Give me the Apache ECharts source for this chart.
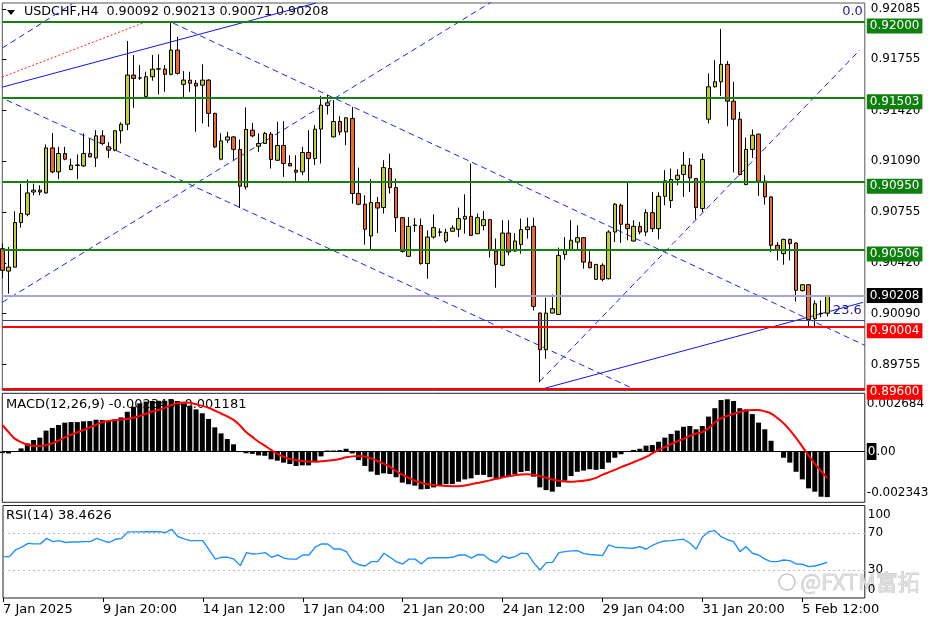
<!DOCTYPE html>
<html><head><meta charset="utf-8">
<script src="https://cdn.jsdelivr.net/npm/echarts@6/dist/echarts.min.js"></script>
<style>html,body{margin:0;padding:0;background:#fff}#c{width:936px;height:624px}</style>
</head><body><div id="c"></div><script>
// ---- price data (USDCHF H4) ----
const opens = [0.90515,0.90368,0.90394,0.90686,0.90740,0.90886,0.90898,0.90880,0.91175,0.91018,
0.91138,0.91033,0.91060,0.91057,0.91138,0.91109,0.91254,0.91182,0.91160,0.91287,
0.91330,0.91652,0.91632,0.91512,0.91641,0.91691,0.91691,0.91657,0.91816,0.91591,
0.91619,0.91598,0.91586,0.91619,0.91401,0.91101,0.91226,0.91247,0.91165,0.90919,
0.91291,0.91186,0.91204,0.91265,0.91094,0.91191,0.91073,0.91029,0.91018,0.91145,
0.91105,0.91298,0.91453,0.91247,0.91348,0.91280,0.91368,0.90876,0.90806,0.90598,
0.90817,0.90784,0.91040,0.90915,0.90718,0.90465,0.90666,0.90666,0.90417,0.90591,
0.90622,0.90565,0.90629,0.90642,0.90709,0.90727,0.90613,0.90666,0.90705,0.90499,
0.90406,0.90617,0.90499,0.90543,0.90640,0.90661,0.90093,0.89853,0.90093,0.90084,
0.90476,0.90504,0.90558,0.90587,0.90427,0.90314,0.90406,0.90318,0.90624,0.90799,
0.90675,0.90565,0.90661,0.90624,0.90751,0.90646,0.90858,0.90830,0.90968,0.91001,
0.91062,0.90974,0.90778,0.91363,0.91575,0.91608,0.91722,0.91481,0.91363,0.90935,
0.91165,0.91265,0.90957,0.90854,0.90537,0.90482,0.90576,0.90552,0.90240,0.90279,
0.90056,0.90089,0.90092];
const highs = [0.90550,0.90526,0.90760,0.90941,0.90968,0.90941,0.90930,0.91197,0.91273,0.91182,
0.91182,0.91105,0.91132,0.91270,0.91237,0.91291,0.91291,0.91214,0.91291,0.91342,
0.91875,0.91783,0.91718,0.91674,0.91783,0.91788,0.91718,0.91998,0.91903,0.91678,
0.91674,0.91619,0.91722,0.91625,0.91405,0.91270,0.91280,0.91252,0.91230,0.91440,
0.91339,0.91270,0.91280,0.91280,0.91346,0.91350,0.91127,0.91127,0.91182,0.91291,
0.91324,0.91516,0.91521,0.91488,0.91383,0.91376,0.91444,0.91046,0.90865,0.90970,
0.90854,0.91094,0.91138,0.90974,0.90722,0.90722,0.90716,0.90712,0.90635,0.90740,
0.90648,0.90646,0.90668,0.90784,0.90871,0.91073,0.90745,0.90762,0.90708,0.90581,
0.90701,0.90701,0.90617,0.90712,0.90718,0.90718,0.90097,0.90194,0.90215,0.90522,
0.90591,0.90701,0.90668,0.90590,0.90499,0.90414,0.90419,0.90635,0.90814,0.90810,
0.90952,0.90701,0.90690,0.90773,0.90886,0.90884,0.91029,0.91040,0.91035,0.91149,
0.91109,0.90976,0.91138,0.91663,0.91750,0.91954,0.91744,0.91608,0.91411,0.91243,
0.91296,0.91268,0.90996,0.90858,0.90558,0.90580,0.90580,0.90556,0.90281,0.90281,
0.90176,0.90176,0.90213];
const lows = [0.90320,0.90220,0.90392,0.90653,0.90727,0.90865,0.90865,0.90876,0.91009,0.90970,
0.91094,0.91029,0.90970,0.91050,0.91114,0.91050,0.91193,0.91109,0.91153,0.91204,
0.91291,0.91437,0.91619,0.91505,0.91615,0.91525,0.91542,0.91650,0.91655,0.91503,
0.91542,0.91280,0.91335,0.91313,0.91175,0.91094,0.91206,0.91094,0.90781,0.90902,
0.91245,0.91149,0.91200,0.91040,0.91090,0.90985,0.91055,0.90952,0.90996,0.90952,
0.91062,0.91073,0.91394,0.91245,0.91258,0.91193,0.90810,0.90800,0.90541,0.90504,
0.90617,0.90745,0.90876,0.90624,0.90490,0.90460,0.90624,0.90410,0.90318,0.90580,
0.90596,0.90552,0.90625,0.90591,0.90613,0.90598,0.90610,0.90635,0.90456,0.90259,
0.90400,0.90471,0.90497,0.90482,0.90581,0.90110,0.89640,0.89794,0.90090,0.90080,
0.90443,0.90500,0.90504,0.90384,0.90386,0.90310,0.90301,0.90314,0.90558,0.90552,
0.90570,0.90560,0.90609,0.90598,0.90624,0.90576,0.90799,0.90781,0.90930,0.90854,
0.90886,0.90707,0.90755,0.91335,0.91570,0.91516,0.91317,0.91014,0.90995,0.90930,
0.91109,0.90860,0.90804,0.90493,0.90438,0.90410,0.90438,0.90169,0.90235,0.90007,
0.90001,0.90066,0.90071];
const closes = [0.90373,0.90394,0.90686,0.90745,0.90880,0.90898,0.90886,0.91175,0.91018,0.91138,
0.91101,0.91062,0.91063,0.91138,0.91116,0.91254,0.91204,0.91160,0.91287,0.91330,
0.91652,0.91630,0.91634,0.91641,0.91691,0.91693,0.91657,0.91816,0.91663,0.91619,
0.91598,0.91580,0.91619,0.91401,0.91182,0.91221,0.91247,0.91165,0.90924,0.91296,
0.91254,0.91204,0.91270,0.91099,0.91191,0.91073,0.91057,0.91016,0.91145,0.91105,
0.91298,0.91455,0.91470,0.91348,0.91280,0.91372,0.90876,0.90806,0.90642,0.90817,
0.90781,0.91046,0.90915,0.90718,0.90497,0.90661,0.90670,0.90417,0.90591,0.90653,
0.90625,0.90622,0.90650,0.90712,0.90727,0.90602,0.90718,0.90705,0.90504,0.90412,
0.90617,0.90493,0.90565,0.90640,0.90657,0.90137,0.89853,0.90093,0.90122,0.90471,
0.90509,0.90570,0.90587,0.90427,0.90390,0.90412,0.90314,0.90624,0.90806,0.90675,
0.90646,0.90661,0.90624,0.90751,0.90646,0.90858,0.90959,0.90968,0.90996,0.91062,
0.90978,0.90784,0.91099,0.91575,0.91608,0.91722,0.91481,0.91363,0.91001,0.91165,
0.91258,0.90957,0.90854,0.90537,0.90509,0.90576,0.90548,0.90242,0.90279,0.90051,
0.90154,0.90092,0.90208];

// ---- MACD(12,26,9) ----
const macdHist = [-0.00008,-0.00010,0.00002,0.00016,0.00042,0.00059,0.00071,0.00107,0.00121,0.00136,
0.00148,0.00151,0.00151,0.00155,0.00156,0.00163,0.00161,0.00158,0.00165,0.00175,
0.00204,0.00230,0.00247,0.00256,0.00259,0.00260,0.00260,0.00268,0.00259,0.00247,
0.00235,0.00216,0.00196,0.00167,0.00124,0.00093,0.00064,0.00037,-0.00003,-0.00009,
-0.00012,-0.00020,-0.00022,-0.00040,-0.00047,-0.00057,-0.00064,-0.00074,-0.00071,-0.00071,
-0.00050,-0.00025,0.00005,0.00005,0.00007,0.00014,-0.00010,-0.00044,-0.00074,-0.00103,
-0.00120,-0.00112,-0.00115,-0.00132,-0.00160,-0.00168,-0.00175,-0.00194,-0.00192,-0.00184,
-0.00177,-0.00167,-0.00167,-0.00155,-0.00143,-0.00138,-0.00120,-0.00120,-0.00132,-0.00143,
-0.00132,-0.00126,-0.00117,-0.00105,-0.00100,-0.00129,-0.00184,-0.00198,-0.00206,-0.00181,
-0.00150,-0.00126,-0.00104,-0.00098,-0.00091,-0.00094,-0.00090,-0.00057,-0.00032,-0.00014,
-0.00001,0.00008,0.00014,0.00030,0.00033,0.00050,0.00071,0.00090,0.00107,0.00127,
0.00131,0.00114,0.00131,0.00179,0.00222,0.00264,0.00268,0.00259,0.00222,0.00216,
0.00192,0.00148,0.00114,0.00055,-0.00001,-0.00032,-0.00057,-0.00104,-0.00143,-0.00189,
-0.00206,-0.00232,-0.00234];
const macdSignal = [0.00136,0.00100,0.00066,0.00048,0.00035,0.00030,0.00028,0.00033,0.00042,0.00056,
0.00072,0.00086,0.00099,0.00110,0.00124,0.00137,0.00150,0.00156,0.00160,0.00164,
0.00167,0.00173,0.00183,0.00194,0.00205,0.00213,0.00224,0.00238,0.00248,0.00252,
0.00250,0.00242,0.00234,0.00224,0.00210,0.00195,0.00180,0.00162,0.00135,0.00100,
0.00075,0.00050,0.00030,0.00008,-0.00012,-0.00027,-0.00038,-0.00045,-0.00049,-0.00051,
-0.00052,-0.00050,-0.00047,-0.00044,-0.00038,-0.00030,-0.00025,-0.00023,-0.00026,-0.00035,
-0.00048,-0.00062,-0.00078,-0.00100,-0.00118,-0.00135,-0.00150,-0.00160,-0.00168,-0.00172,
-0.00175,-0.00177,-0.00178,-0.00178,-0.00174,-0.00168,-0.00162,-0.00155,-0.00148,-0.00140,
-0.00133,-0.00127,-0.00122,-0.00118,-0.00117,-0.00119,-0.00126,-0.00134,-0.00144,-0.00150,
-0.00154,-0.00155,-0.00153,-0.00150,-0.00145,-0.00135,-0.00120,-0.00107,-0.00094,-0.00080,
-0.00068,-0.00055,-0.00042,-0.00028,-0.00010,0.00008,0.00022,0.00038,0.00052,0.00065,
0.00080,0.00092,0.00100,0.00120,0.00150,0.00170,0.00183,0.00193,0.00203,0.00210,
0.00213,0.00213,0.00206,0.00195,0.00172,0.00145,0.00110,0.00070,0.00025,-0.00020,
-0.00062,-0.00100,-0.00137];

// ---- RSI(14) ----
const rsiValues = [44.7,44.7,52,55,59,58.5,58.5,64.5,61,62,
60,60.5,60.5,61,61,64.5,62,60,63.5,64.5,
71.5,71.5,71.5,71.7,71.7,71.8,70.6,74.3,66.5,64,
62,62,62,52,42,44,44,42,35,49,
47.6,48,49,44,46.5,43,42,42,46.5,46.5,
55,58.4,58.4,53,53,50,39.3,36,34.6,39.3,
39.3,48.4,44,39,36.8,42,42,36.8,43,43.5,
43.5,43.5,44,46.5,46.5,43,47,46.5,41.1,38.2,
45.5,43,44.7,48.4,48,38,30.3,38.2,38.5,49,
50.1,51,51.2,48,47,46.5,45.8,57.4,54.9,54.5,
54,53.8,55.5,52.7,57,59.8,61.7,62,62.8,63.5,
59.2,52.7,66,71.7,72.8,66.3,63,60.9,50.1,55.5,
48.4,46.5,42,39.3,39.3,41.1,40.4,36.8,36.5,33.9,
34.6,36.5,38.46];

// ---- axis ticks / labels ----
const tickLabels = ['7 Jan 2025','9 Jan 20:00','14 Jan 12:00','17 Jan 04:00','21 Jan 20:00','24 Jan 12:00','29 Jan 04:00','31 Jan 20:00','5 Feb 12:00'];
const priceTicks = [0.92085,0.91755,0.91420,0.91090,0.90755,0.90420,0.90090,0.89755];
const macdTicks = [0.002684,0,-0.002343];
const rsiTicks = [100,70,30,0];

// ---- horizontal levels & drawings (bar index, price) ----
const greenLevels = [0.92000,0.91503,0.90950,0.90506];
const redLevels = [0.90004,0.89600];
const bidPrice = 0.90208;
const fib236 = 0.90045, fib0 = 0.92009;
const dashedLines = [
  [[0,0.91829],[11.2,0.92118]],
  [[0.7,0.91488],[100.9,0.89599]],
  [[27.3,0.91993],[138,0.89882]],
  [[0,0.90163],[78.8,0.92144]],
  [[86,0.89645],[137.2,0.91816]]
];
const solidLines = [
  [[0,0.91573],[50.2,0.92124]],
  [[86,0.89592],[137.7,0.90163]]
];
const dottedLines = [
  [[0,0.91639],[22.5,0.91993]]
];

// categories: H4 bars, weekdays only
const MON = ['Jan','Feb','Mar','Apr','May','Jun','Jul','Aug','Sep','Oct','Nov','Dec'];
const categories = [];
let t = Date.UTC(2025,0,7,4);
while (categories.length < 139) {
  const d = new Date(t); const wd = d.getUTCDay();
  if (wd !== 0 && wd !== 6) {
    const hh = String(d.getUTCHours()).padStart(2,'0');
    categories.push(d.getUTCDate()+' '+MON[d.getUTCMonth()]+' '+hh+':00');
  }
  t += 4*3600e3;
}
const candleData = opens.map((o,i)=>[o, closes[i], lows[i], highs[i]]);
const tickShown = (idx)=> idx % 16 === 0 && idx <= 128;

const FONT = 'DejaVu Sans';
const BULL = '#c3cf2e', BEAR = '#f2682a';
const GREEN = '#118311', RED = '#ff0000';

const levelLabel = (txt,bg,off)=>({show:true, position:'end', distance:2, offset:[0,off], formatter:txt,
  backgroundColor:bg, color:'#fff', padding:[2,3,1,3], fontSize:12, fontFamily:FONT});
const priceMarks = [];
greenLevels.forEach(v=>priceMarks.push({yAxis:v, lineStyle:{color:GREEN,width:2,type:'solid'}, label:levelLabel(v.toFixed(5),'#0d800d',4)}));
priceMarks.push({yAxis:bidPrice, lineStyle:{color:'#a4a4d6',width:2,type:'solid'}, label:levelLabel(bidPrice.toFixed(5),'#000',0)});
priceMarks.push({yAxis:fib236, lineStyle:{color:'#3c3ca8',width:1,type:'solid'}, label:{show:true, position:'insideEndTop', distance:3, formatter:'23.6', color:'#1c1c8c', fontSize:13, fontFamily:FONT}});
priceMarks.push({yAxis:fib0, lineStyle:{color:'rgba(0,0,0,0)',width:1}, label:{show:true, position:'insideEndTop', distance:2, formatter:'0.0', color:'#1c1c8c', fontSize:13, fontFamily:FONT}});
redLevels.forEach(v=>priceMarks.push({yAxis:v, lineStyle:{color:RED,width:2,type:'solid'}, label:levelLabel(v.toFixed(5),RED,4)}));

const lineSeries = (pts, style)=>({type:'line', xAxisIndex:3, yAxisIndex:0, data:pts, showSymbol:false, symbol:'none', silent:true, clip:true, lineStyle:style, z:3});

const series = [
  {type:'candlestick', xAxisIndex:0, yAxisIndex:0, data:candleData, barWidth:4, clip:true, z:4,
   itemStyle:{color:BULL, color0:BEAR, borderColor:'#000', borderColor0:'#000', borderWidth:1},
   markLine:{silent:true, precision:5, symbol:['none','none'], animation:false, data:priceMarks}}
];
dashedLines.forEach(p=>series.push(lineSeries(p,{color:'#2020ff',width:1,type:[6,4]})));
solidLines.forEach(p=>series.push(lineSeries(p,{color:'#1414e6',width:1,type:'solid'})));
dottedLines.forEach(p=>series.push(lineSeries(p,{color:'#ff2020',width:1,type:[2,2]})));
series.push({type:'bar', xAxisIndex:1, yAxisIndex:1, data:macdHist, barWidth:5, itemStyle:{color:'#000'}, silent:true,
  markLine:{silent:true, precision:6, symbol:['none','none'], label:{show:false}, lineStyle:{color:'#000',width:1,type:'solid'}, data:[{yAxis:0}]}});
series.push({type:'line', xAxisIndex:1, yAxisIndex:1, data:macdSignal, smooth:0.4, showSymbol:false, symbol:'none', lineStyle:{color:'#ff0000',width:2}, z:5});
series.push({type:'line', xAxisIndex:2, yAxisIndex:2, data:rsiValues, showSymbol:false, symbol:'none', lineStyle:{color:'#1e90ff',width:1.4},
  markLine:{silent:true, symbol:['none','none'], label:{show:false}, lineStyle:{color:'#bdbdbd',width:1,type:[2,3]}, data:[{yAxis:70},{yAxis:30}]}});

const hiddenCat = (g)=>({type:'category', gridIndex:g, data:categories, boundaryGap:false, show:false});
const option = {
  animation:false,
  backgroundColor:'#fff',
  textStyle:{fontFamily:FONT},
  grid:[
    {left:2.3, top:3, width:862.5, height:387.5, show:true, borderColor:'#555', borderWidth:1},
    {left:2.3, top:393.3, width:862.5, height:109, show:true, borderColor:'#222', borderWidth:1},
    {left:2.3, top:505.5, width:862.5, height:92.5, show:true, borderColor:'#222', borderWidth:1}
  ],
  xAxis:[
    hiddenCat(0), hiddenCat(1),
    {type:'category', gridIndex:2, data:categories, boundaryGap:false,
     axisLine:{show:false}, splitLine:{show:false},
     axisTick:{show:true, interval:tickShown, length:4, lineStyle:{color:'#000'}},
     axisLabel:{interval:tickShown, formatter:(v,i)=>tickLabels[i/16], align:'left', margin:5, fontSize:13, color:'#000', fontFamily:FONT}},
    {type:'value', gridIndex:0, min:0, max:138, show:false, position:'top'}
  ],
  yAxis:[
    {type:'value', gridIndex:0, position:'right', min:0.89586, max:0.92124, scale:true,
     splitLine:{show:false}, axisLine:{show:false},
     axisTick:{show:true, customValues:priceTicks, length:4, lineStyle:{color:'#000'}},
     axisLabel:{customValues:priceTicks, formatter:v=>v.toFixed(5), margin:6, fontSize:12, color:'#000', fontFamily:FONT}},
    {type:'value', gridIndex:1, position:'right', min:-0.002606, max:0.002986,
     splitLine:{show:false}, axisLine:{show:false}, axisTick:{show:false},
     axisLabel:{customValues:macdTicks, margin:2, fontSize:12, color:'#000', fontFamily:FONT,
       formatter:v=> v>0 ? '{t|'+v.toFixed(6)+'}' : (v<0 ? '{b|'+v.toFixed(6)+'}' : '{z|0}{n|.00}'),
       rich:{t:{padding:[9,0,0,0],fontSize:12,color:'#000',fontFamily:FONT},
             b:{padding:[0,0,8,0],fontSize:12,color:'#000',fontFamily:FONT},
             z:{backgroundColor:'#000',color:'#fff',padding:[3,1,2,1],fontSize:12,fontFamily:FONT},
             n:{color:'#000',fontSize:12,fontFamily:FONT}}}},
    {type:'value', gridIndex:2, position:'right', min:0, max:100,
     splitLine:{show:false}, axisLine:{show:false}, axisTick:{show:false},
     axisLabel:{customValues:rsiTicks, margin:3, fontSize:12, color:'#000', fontFamily:FONT,
       formatter:v=> v===100 ? '{t|100}' : (v===0 ? '{b|0}' : String(v)),
       rich:{t:{padding:[18,0,0,0],fontSize:12,color:'#000',fontFamily:FONT},
             b:{padding:[0,0,17,0],fontSize:12,color:'#000',fontFamily:FONT}}}}
  ],
  graphic:[
    {type:'polygon', shape:{points:[[7,10],[15,10],[11,15]]}, style:{fill:'#000'}, silent:true},
    {type:'text', left:24, top:5, silent:true, style:{text:'USDCHF,H4  0.90092 0.90213 0.90071 0.90208', font:'12.7px "DejaVu Sans"', fill:'#000'}},
    {type:'text', left:6, top:398, z:0, silent:true, style:{text:'MACD(12,26,9) -0.002343 -0.001181', font:'13px "DejaVu Sans"', fill:'#000'}},
    {type:'text', left:6, top:509, silent:true, style:{text:'RSI(14) 38.4626', font:'13px "DejaVu Sans"', fill:'#000'}},
    {type:'circle', shape:{cx:787, cy:582, r:8}, style:{fill:'none', stroke:'#c8c8c8', lineWidth:1.5}, silent:true},
    {type:'text', left:800, top:570, silent:true, style:{text:'@FXTM富拓', font:'22px "Noto Sans CJK SC"', fill:'#dedede', stroke:'#b4b4b4', lineWidth:0.6}}
  ],
  series:series
};
const chart = echarts.init(document.getElementById('c'), null, {renderer:'canvas'});
chart.setOption(option);
</script></body></html>
